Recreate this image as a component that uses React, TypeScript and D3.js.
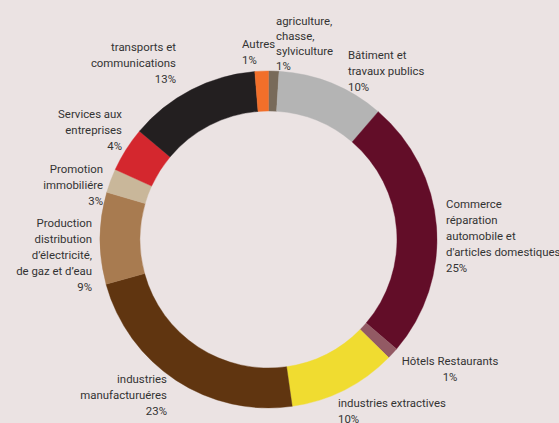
import React from "react";
import * as d3 from "d3";

const categories = [
  "agriculture",
  "batiment",
  "commerce",
  "hotels",
  "extractives",
  "manufacturieres",
  "production",
  "promotion",
  "services",
  "transports",
  "autres",
];
const shares = [1.0, 10.3, 25.0, 1.1, 10.4, 23.0, 8.8, 2.3, 4.3, 12.6, 1.3];
const colors = [
  "#786a5a",
  "#b4b4b4",
  "#620d28",
  "#935a64",
  "#f0dc30",
  "#603510",
  "#a87b50",
  "#c9b79a",
  "#d4272e",
  "#231f20",
  "#f26f2a",
];
const labelLines = [
  ["agriculture,", "chasse,", "sylviculture", "1%"],
  ["Bâtiment et", "travaux publics", "10%"],
  ["Commerce", "réparation", "automobile et", "d'articles domestiques", "25%"],
  ["Hôtels Restaurants", "1%"],
  ["industries extractives", "10%"],
  ["industries", "manufacturuéres", "23%"],
  ["Production", "distribution", "d’électricité,", "de gaz et d’eau", "9%"],
  ["Promotion", "immobiliére", "3%"],
  ["Services aux", "entreprises", "4%"],
  ["transports et", "communications", "13%"],
  ["Autres", "1%"],
];
// label anchor: [x, firstBaseline, anchor, lineHeight]
const labelPos: [number, number, string, number][] = [
  [276, 25, "start", 15],
  [348, 59, "start", 16],
  [446, 208, "start", 16],
  [450, 365, "middle", 16],
  [338, 407, "start", 16],
  [167, 383, "end", 16],
  [92, 227, "end", 16],
  [103, 173, "end", 16],
  [122, 118, "end", 16],
  [176, 51, "end", 16],
  [242, 48, "start", 16],
];

export default function App() {
  const W = 559;
  const H = 423;
  const cx = 268.5;
  const cy = 239.5;
  const outerR = 168.5;
  const innerR = 128.5;
  const pie = d3
    .pie<number>()
    .sort(null)
    .value((d) => d)
    .startAngle(0)
    .endAngle(2 * Math.PI);
  const arcs = pie(shares);
  const arc = d3.arc<d3.PieArcDatum<number>>().innerRadius(innerR).outerRadius(outerR);
  return (
    <svg
      width={W}
      height={H}
      style={{ position: "absolute", left: 0, top: 0, display: "block" }}
    >
      <rect x={0} y={0} width={W} height={H} fill="#ebe3e3" />
      <g transform={`translate(${cx},${cy})`}>
        {arcs.map((a, i) => (
          <path
            key={categories[i]}
            d={arc(a) || ""}
            fill={colors[i]}
            stroke={colors[i]}
            strokeWidth={0.4}
          />
        ))}
      </g>
      <g fontFamily="Roboto, 'Noto Sans', sans-serif" fontSize={11.4} fill="#333333">
        {labelLines.map((lines, i) => {
          const [x, y0, anchor, lh] = labelPos[i];
          return (
            <text key={categories[i]} textAnchor={anchor as any}>
              {lines.map((ln, j) => (
                <tspan key={j} x={x} y={y0 + j * lh}>
                  {ln}
                </tspan>
              ))}
            </text>
          );
        })}
      </g>
    </svg>
  );
}
